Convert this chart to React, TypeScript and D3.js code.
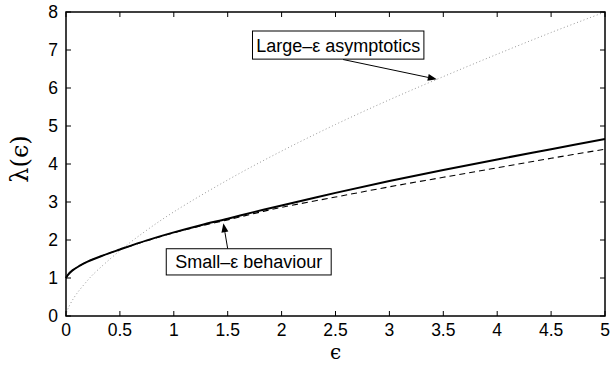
import React, { useEffect, useRef } from "react";
import * as d3 from "d3";

// values
const epsSolid = [0, 0.02, 0.06, 0.12, 0.2, 0.33, 0.5, 0.75, 1, 1.25, 1.5, 1.75, 2, 2.5, 3, 3.5, 4, 4.5, 5];
const lambdaSolid = [1.0, 1.09, 1.2, 1.31, 1.43, 1.58, 1.75, 1.99, 2.2, 2.39, 2.56, 2.74, 2.91, 3.24, 3.55, 3.84, 4.12, 4.39, 4.66];

const epsDashed = [0, 0.02, 0.06, 0.12, 0.2, 0.33, 0.5, 0.75, 1, 1.25, 1.5, 1.75, 2, 2.5, 3, 3.5, 4, 4.5, 5];
const lambdaDashed = [1.0, 1.09, 1.2, 1.31, 1.43, 1.58, 1.75, 1.98, 2.19, 2.37, 2.53, 2.7, 2.86, 3.13, 3.4, 3.65, 3.9, 4.15, 4.39];

const epsDotted = [0, 0.01, 0.02, 0.05, 0.1, 0.18, 0.25, 0.5, 0.75, 1, 1.5, 2, 2.5, 3, 3.5, 4, 4.5, 5];
const lambdaDotted = [0, 0.13, 0.2, 0.37, 0.59, 0.87, 1.09, 1.72, 2.26, 2.74, 3.58, 4.34, 5.04, 5.69, 6.3, 6.89, 7.46, 8.0];

const xTicks = [0, 0.5, 1, 1.5, 2, 2.5, 3, 3.5, 4, 4.5, 5];
const yTicks = [0, 1, 2, 3, 4, 5, 6, 7, 8];

const App = () => {
  const ref = useRef<SVGSVGElement | null>(null);

  useEffect(() => {
    const W = 614, H = 366;
    const margin = { top: 12, right: 9, bottom: 50, left: 66 };
    const width = W - margin.left - margin.right;
    const height = H - margin.top - margin.bottom;

    const root = d3.select(ref.current);
    root.selectAll("*").remove();
    const svg = root.append("g").attr("transform", `translate(${margin.left},${margin.top})`);

    const x = d3.scaleLinear().domain([0, 5]).range([0, width]);
    const y = d3.scaleLinear().domain([0, 8]).range([height, 0]);
    const font = "'Liberation Sans', Arial, Helvetica, sans-serif";

    const line = d3.line<[number, number]>()
      .x(d => x(d[0]))
      .y(d => y(d[1]))
      .curve(d3.curveCatmullRom.alpha(0.5));

    const zip = (a: number[], b: number[]) => a.map((v, i) => [v, b[i]] as [number, number]);

    // dotted: large-eps asymptotics
    svg.append("path")
      .attr("d", line(zip(epsDotted, lambdaDotted)))
      .attr("fill", "none")
      .attr("stroke", "#999")
      .attr("stroke-width", 1)
      .attr("stroke-dasharray", "1,2.5");

    // dashed: small-eps behaviour
    svg.append("path")
      .attr("d", line(zip(epsDashed, lambdaDashed)))
      .attr("fill", "none")
      .attr("stroke", "#000")
      .attr("stroke-width", 1.1)
      .attr("stroke-dasharray", "6,4");

    // solid
    svg.append("path")
      .attr("d", line(zip(epsSolid, lambdaSolid)))
      .attr("fill", "none")
      .attr("stroke", "#000")
      .attr("stroke-width", 2);

    // box
    svg.append("rect")
      .attr("x", 0).attr("y", 0)
      .attr("width", width).attr("height", height)
      .attr("fill", "none")
      .attr("stroke", "#000")
      .attr("stroke-width", 1.5);

    const tl = 5;
    xTicks.forEach(t => {
      svg.append("line").attr("x1", x(t)).attr("x2", x(t)).attr("y1", height).attr("y2", height - tl)
        .attr("stroke", "#000").attr("stroke-width", 1);
      svg.append("line").attr("x1", x(t)).attr("x2", x(t)).attr("y1", 0).attr("y2", tl)
        .attr("stroke", "#000").attr("stroke-width", 1);
      svg.append("text")
        .attr("x", x(t)).attr("y", height + 20)
        .attr("text-anchor", "middle")
        .style("font-family", font).style("font-size", "17.5px")
        .text(String(t));
    });
    yTicks.forEach(t => {
      svg.append("line").attr("x1", 0).attr("x2", tl).attr("y1", y(t)).attr("y2", y(t))
        .attr("stroke", "#000").attr("stroke-width", 1);
      svg.append("line").attr("x1", width).attr("x2", width - tl).attr("y1", y(t)).attr("y2", y(t))
        .attr("stroke", "#000").attr("stroke-width", 1);
      svg.append("text")
        .attr("x", -8).attr("y", y(t)).attr("dy", "0.36em")
        .attr("text-anchor", "end")
        .style("font-family", font).style("font-size", "17.5px")
        .text(String(t));
    });

    // axis labels
    svg.append("text")
      .attr("x", width / 2).attr("y", height + 43)
      .attr("text-anchor", "middle")
      .style("font-family", "'DejaVu Serif', serif").style("font-size", "20px")
      .text("ϵ");
    svg.append("text")
      .attr("transform", `translate(${-38},${height / 2 - 5}) rotate(-90)`)
      .attr("text-anchor", "middle")
      .style("font-family", "'DejaVu Serif', serif").style("font-size", "24px")
      .text("λ(ϵ)");

    // annotations
    const arrow = (x1: number, y1: number, x2: number, y2: number) => {
      const a = Math.atan2(y2 - y1, x2 - x1);
      const len = 9, w = 3.5;
      const bx = x2 - len * Math.cos(a), by = y2 - len * Math.sin(a);
      svg.append("line").attr("x1", x1).attr("y1", y1).attr("x2", bx).attr("y2", by)
        .attr("stroke", "#000").attr("stroke-width", 1);
      const pts = [
        [x2, y2],
        [bx + w * Math.sin(a), by - w * Math.cos(a)],
        [bx - w * Math.sin(a), by + w * Math.cos(a)],
      ];
      svg.append("polygon").attr("points", pts.map(p => p.join(",")).join(" ")).attr("fill", "#000");
    };

    const note = (label: string, bx: number, by: number, bw: number, bh: number) => {
      svg.append("rect")
        .attr("x", bx).attr("y", by).attr("width", bw).attr("height", bh)
        .attr("fill", "#fff").attr("stroke", "#000").attr("stroke-width", 1);
      svg.append("text")
        .attr("x", bx + bw / 2).attr("y", by + bh / 2).attr("dy", "0.36em")
        .attr("text-anchor", "middle")
        .style("font-family", font).style("font-size", "18px")
        .text(label);
    };

    // Large-eps
    arrow(x(2.57), y(6.75), x(3.44), y(6.23));
    note("Large–ε asymptotics", x(1.73), y(7.5), x(1.59) - x(0), y(0) - y(0.74));

    // Small-eps
    arrow(x(1.5), y(1.77), x(1.46), y(2.44));
    note("Small–ε behaviour", x(0.93), y(1.77), x(1.53) - x(0), y(0) - y(0.69));
  }, []);

  return (
    <svg ref={ref} width={614} height={366}
      style={{ position: "absolute", left: 0, top: 0, background: "#fff" }} />
  );
};

export default App;
